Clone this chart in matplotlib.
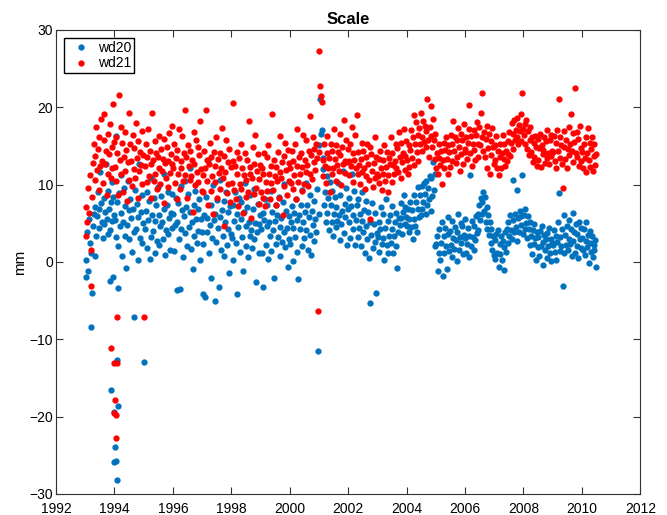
"""Scatter of the wd20 / wd21 scale time series."""
import matplotlib

matplotlib.use("Agg")
import matplotlib.pyplot as plt
import numpy as np

plt.rcParams["font.family"] = ["Liberation Sans", "DejaVu Sans"]

# ~10-day samples, one row per year (1993 .. mid 2010)
wd20 = [
    -1.9, 0.3, 3.8, -1.2, 5.6, 2.4, 1.1, -8.4, -4.0, 4.7, 6.2, 0.8, 7.1, 3.3, 5.9, 9.1, 6.8, 4.4,
    11.6, 7.6, 5.2, 3.1, 8.3, 4.9, 6.4, 12.7, 5.5, 9.2, 3.6, 6.9, 4.1, 7.8, 10.3, 5.3, 8.4, 6.1,
    5.4, 3.2, 16.3, 7.7, 2.1, 8.9, 4.6, 11.2, 6.3, 0.7, 5.1, 9.6, 3.4, 7.2, -0.8, 4.8, 10.4, 6.7,
    2.9, 8.1, 5.7, 1.3, 6.9, 3.9, -7.1, 9.3, 4.2, 7.5, 0.2, 5.8, 12.6, 3.1, 6.4, 8.7, 2.4, 5.0,
    -13.0, 4.3, 6.6, 9.1, 1.8, 5.4, 7.9, 0.4, 3.2, 10.8, 6.1, 4.0, 8.2, 1.1, 5.3, 7.4, 2.7, 9.7,
    6.0, 2.2, 4.6, 8.5, 5.2, 3.0, 11.4, 6.8, 0.9, 4.1, 7.3, 3.6, 9.0, 5.7, 1.5, 6.3, 8.8, 4.4,
    6.2, 1.4, 4.8, 8.3, -3.6, 5.1, 7.6, 2.9, -3.5, 9.8, 4.3, 6.7, 0.6, 5.9, 10.5, 3.7, 7.1, 2.0,
    8.8, 4.5, 12.1, 6.4, 1.7, 5.2, -0.9, 7.4, 3.3, 9.2, 5.6, 2.4, 6.9, 4.0, 8.1, 0.3, 5.5, 3.8,
    -4.1, 2.3, 6.1, -4.6, 8.4, 3.9, 5.7, 13.2, 1.2, 4.8, -2.1, 7.3, 3.1, 9.9, 5.4, -5.0, 6.2, 2.6,
    8.0, 4.4, -3.2, 5.8, 10.6, 1.5, 6.7, 3.4, 7.9, 0.8, 5.1, 9.1, 2.2, 6.5, 4.3, -1.4, 7.2, 3.6,
    3.1, 7.4, 0.2, 5.3, 9.1, 2.4, 6.2, -4.1, 4.5, 8.3, 1.3, 5.6, 7.7, 3.2, -1.2, 6.4, 10.2, 2.1,
    4.7, 7.1, 0.6, 5.2, 3.4, 8.6, 4.1, 1.8, 6.8, 2.9, 9.4, 5.0, -2.6, 3.8, 7.5, 1.1, 4.9, 6.1,
    4.2, 1.1, 6.3, -3.2, 5.4, 8.1, 2.2, 4.6, 7.3, 0.4, 5.1, 3.3, 9.2, 1.4, 6.5, 4.1, -2.1, 5.3,
    7.4, 2.3, 6.1, 3.2, 8.4, 4.5, 0.8, 5.7, 2.6, 7.8, 3.9, 10.1, 1.9, 6.6, 4.4, -0.7, 5.9, 3.0,
    2.3, 5.1, 7.2, 0.1, 4.4, 6.3, 3.2, 8.1, 1.3, 5.4, -2.2, 6.1, 4.3, 7.4, 2.1, 9.3, 5.2, 3.1,
    6.4, 10.2, 4.1, 7.3, 1.6, 5.8, 3.5, 8.7, 0.9, 6.6, 4.8, 2.7, 7.9, 5.5, 3.9, 9.4, -11.5, 6.2,
    15.1, 21.0, 16.6, 17.0, 13.4, 12.0, 7.3, 9.1, 5.2, 11.1, 6.3, 8.2, 4.1, 10.3, 7.4, 5.1, 9.2, 3.3,
    6.2, 8.4, 4.5, 7.1, 5.3, 10.2, 6.0, 2.8, 8.7, 4.9, 6.6, 11.8, 3.7, 7.5, 5.8, 9.6, 2.2, 6.9,
    5.2, 8.3, 3.1, 7.2, 11.4, 4.3, 6.1, 9.2, 2.2, 5.4, 7.3, 3.2, 8.1, 4.4, 6.2, 2.1, 5.3, 9.1,
    3.8, 6.7, 1.2, 7.9, 4.6, 2.9, 6.4, 0.5, 5.1, -5.3, 3.5, 7.6, 1.8, 4.9, 2.6, 6.3, -4.0, 3.7,
    3.2, 5.1, 1.3, 4.2, 7.1, 2.3, 6.2, 3.1, 0.2, 4.4, 8.1, 2.2, 5.3, 1.1, 3.4, 6.1, 2.4, 4.3,
    7.2, 1.2, 3.3, 5.2, 2.1, 6.3, -0.8, 3.9, 5.7, 4.8, 7.6, 5.7, 3.6, 6.5, 8.6, 4.9, 7.1, 5.8,
    4.7, 6.9, 3.8, 5.6, 7.8, 4.5, 6.7, 2.9, 5.6, 8.6, 4.7, 7.8, 3.9, 6.8, 9.7, 5.8, 8.7, 6.1,
    6.9, 9.8, 7.7, 10.2, 8.8, 6.2, 10.4, 7.3, 9.5, 8.1, 11.1, 6.6, 10.9, 8.5, 12.9, 9.3, 11.4, 2.1,
    2.3, 3.4, -1.2, 1.1, 4.2, 0.3, 2.5, 5.1, -1.8, 3.3, 1.2, 4.4, 2.1, -0.9, 3.6, 5.8, 1.4, 4.0,
    2.2, 5.3, 0.6, 3.1, 1.7, 4.5, 2.8, 0.1, 3.9, 6.2, 1.5, 3.2, 5.0, 2.4, 4.7, 1.0, 3.5, 5.6,
    3.1, 1.2, 2.3, 4.4, 0.6, 3.4, 11.2, 2.1, 5.3, 3.2, 1.6, 4.6, 2.8, 5.9, 3.7, 6.2, 4.1, 7.3,
    5.4, 8.3, 6.2, 7.8, 9.0, 6.6, 8.4, 5.2, 7.1, 4.3, 6.0, 3.5, 5.1, 2.4, 4.2, 1.6, 3.4, 0.9,
    2.8, 0.4, 3.6, 1.2, 4.1, -0.6, 2.3, 1.0, 3.4, 0.2, 2.7, -1.1, 1.9, 3.8, 1.3, 4.2, 2.5, 5.1,
    3.3, 6.0, 4.1, 2.9, 5.4, 10.6, 3.8, 6.2, 4.5, 2.7, 9.3, 5.7, 3.9, 6.6, 4.8, 5.9, 11.2, 3.6,
    6.1, 4.2, 6.8, 5.0, 3.1, 5.9, 4.3, 2.2, 5.2, 3.4, 1.0, 4.1, 2.3, 4.9, 3.1, 0.2, 3.8, 1.9,
    3.2, 0.8, 4.0, 2.1, 4.7, 2.6, -0.4, 3.5, 1.6, 2.9, 0.5, 3.7, 2.0, 4.4, 1.2, 3.0, 0.1, 2.4,
    2.2, 4.1, 1.3, 3.4, 0.2, 2.6, 5.1, 8.9, 1.4, 3.2, 2.1, 4.3, -3.1, 1.1, 6.1, 3.5, 2.2, 4.6,
    1.5, 3.0, 5.4, 2.3, 4.2, 0.8, 6.3, 2.7, 3.8, 1.2, 4.9, 2.1, 3.6, 0.5, 5.2, 2.9, 4.4, 1.8,
    3.1, 1.6, 4.2, 0.9, 2.7, 5.1, 1.9, 3.5, -0.2, 2.4, 4.0, 1.3, 3.3, 0.6, 2.2, 1.5, 2.8, -0.6,
]

wd21 = [
    3.4, 7.1, 5.2, 9.6, 6.3, 11.2, 1.5, -3.1, 8.4, 12.8, 15.2, 10.6, 13.7, 17.4, 11.9, 14.6, 9.3, 16.1,
    12.4, 18.5, 13.1, 10.2, 15.8, 19.1, 12.6, 14.3, 8.7, 16.6, 11.4, 13.9, 17.8, 10.8, 14.9, 12.2, 20.4, 15.5,
    12.3, 16.2, 10.4, 14.1, 8.6, 21.6, 13.2, 17.5, 11.3, 15.4, 9.1, 13.6, 16.8, 11.7, 14.5, 7.9, 12.9, 19.2,
    10.6, 15.3, 13.1, 9.8, 16.4, 12.0, 14.7, 10.9, 17.9, 13.4, 8.3, 15.6, 11.8, 14.2, 12.5, 16.9, 10.1, 13.8,
    -7.1, 12.4, 15.2, 10.3, 13.6, 17.2, 11.1, 14.4, 8.2, 12.7, 19.3, 13.2, 10.5, 15.6, 11.3, 14.1, 9.4, 13.5,
    16.3, 12.2, 10.1, 14.6, 11.7, 13.3, 7.6, 15.9, 12.8, 10.9, 14.8, 9.7, 13.1, 16.7, 11.5, 14.0, 12.6, 17.6,
    12.1, 15.3, 10.2, 13.4, 8.1, 14.5, 11.3, 17.2, 9.4, 13.1, 12.2, 16.3, 10.5, 14.1, 19.6, 11.2, 13.6, 8.3,
    15.1, 12.4, 10.6, 14.3, 11.1, 13.2, 6.4, 16.8, 12.7, 9.9, 15.7, 11.6, 14.9, 10.3, 13.8, 18.2, 12.0, 9.2,
    11.2, 9.1, 14.3, 12.1, 19.6, 10.4, 13.2, 7.3, 12.6, 15.4, 9.2, 13.5, 11.1, 6.2, 14.2, 10.3, 12.4, 16.1,
    8.2, 13.3, 11.5, 9.4, 14.1, 12.2, 17.3, 10.8, 4.6, 13.7, 11.6, 15.8, 8.9, 12.9, 10.1, 14.6, 7.8, 12.3,
    10.2, 13.1, 20.5, 9.3, 12.4, 8.1, 14.2, 11.3, 7.2, 13.4, 10.1, 15.2, 9.4, 12.1, 6.3, 11.2, 14.1, 8.4,
    10.6, 13.2, 9.1, 18.2, 11.4, 12.3, 5.7, 10.9, 14.8, 8.8, 12.7, 16.4, 9.6, 11.8, 13.9, 7.5, 10.7, 12.5,
    9.1, 12.2, 8.3, 11.4, 14.1, 7.2, 10.3, 13.5, 9.2, 15.1, 11.3, 8.1, 12.4, 10.2, 19.1, 9.3, 13.2, 11.1,
    7.4, 12.3, 10.5, 14.2, 8.2, 11.6, 16.3, 10.8, 12.9, 6.1, 13.7, 9.8, 15.4, 11.9, 8.7, 14.5, 10.4, 12.8,
    12.1, 10.2, 14.3, 9.4, 13.1, 11.2, 15.3, 8.1, 12.4, 17.2, 10.3, 13.5, 11.4, 14.1, 9.2, 12.3, 16.4, 10.1,
    13.2, 11.6, 15.7, 12.5, 9.8, 14.4, 18.8, 11.3, 13.8, 10.7, 16.1, 12.9, 14.6, 11.9, 15.2, 13.4, -6.3, 14.2,
    27.3, 22.7, 21.5, 20.7, 13.2, 11.1, 15.3, 12.4, 10.2, 14.1, 16.3, 12.2, 13.4, 9.1, 15.2, 11.3, 14.4, 12.1,
    17.2, 13.3, 10.4, 15.1, 12.5, 14.2, 11.7, 16.6, 13.8, 9.9, 14.9, 12.6, 18.4, 13.1, 11.5, 15.7, 12.9, 14.6,
    13.1, 11.2, 15.3, 12.4, 17.5, 14.1, 10.3, 13.2, 16.4, 12.1, 19.0, 11.3, 14.2, 12.5, 10.1, 13.3, 15.4, 11.6,
    14.3, 12.2, 9.4, 13.5, 11.1, 15.2, 12.7, 10.6, 14.8, 5.6, 13.9, 11.8, 9.7, 12.8, 16.1, 10.9, 13.6, 11.4,
    11.1, 13.3, 10.2, 14.4, 12.1, 9.3, 13.2, 11.4, 15.1, 10.5, 12.3, 14.2, 11.2, 9.1, 13.4, 12.6, 16.2, 10.3,
    14.1, 12.5, 11.3, 13.1, 15.3, 12.2, 14.7, 11.6, 16.8, 13.5, 10.8, 15.4, 12.9, 14.1, 17.2, 13.7, 11.9, 15.6,
    13.2, 11.4, 15.1, 12.3, 14.5, 17.1, 13.4, 16.2, 19.0, 12.5, 15.3, 18.1, 14.2, 16.4, 13.1, 17.3, 15.2, 19.3,
    16.1, 14.4, 18.2, 15.5, 17.6, 14.8, 16.9, 21.0, 15.7, 13.6, 17.4, 16.3, 20.1, 14.9, 18.5, 15.8, 13.3, 16.6,
    12.2, 14.1, 11.3, 13.4, 15.2, 12.5, 14.3, 10.1, 13.2, 15.4, 12.1, 14.5, 16.2, 13.3, 11.4, 15.1, 14.2, 12.3,
    16.4, 13.1, 15.3, 18.2, 14.4, 16.1, 12.8, 15.7, 13.6, 17.3, 14.9, 11.8, 16.5, 13.9, 15.8, 12.7, 17.8, 14.6,
    14.2, 16.1, 13.3, 15.4, 17.2, 20.3, 14.1, 16.3, 12.4, 15.2, 17.1, 14.5, 13.2, 16.4, 18.1, 15.3, 13.6, 17.4,
    15.1, 19.2, 16.2, 21.9, 14.3, 16.8, 13.5, 15.9, 17.6, 12.1, 14.7, 16.5, 11.4, 15.6, 13.8, 17.3, 14.9, 12.6,
    15.1, 13.2, 16.3, 12.1, 14.4, 11.2, 15.3, 13.5, 12.2, 14.1, 16.4, 13.3, 15.2, 12.4, 14.3, 13.1, 15.6, 14.0,
    16.8, 13.7, 15.4, 17.9, 14.6, 16.5, 18.4, 15.8, 17.1, 16.2, 18.6, 15.3, 17.7, 16.9, 19.1, 15.6, 21.8, 17.2,
    16.4, 17.8, 15.2, 18.3, 14.6, 16.9, 13.8, 15.7, 17.4, 14.2, 16.1, 12.9, 15.4, 13.6, 16.3, 14.8, 12.4, 15.9,
    13.2, 14.7, 16.6, 12.3, 15.1, 13.9, 14.5, 16.2, 12.8, 15.6, 13.4, 17.1, 14.1, 12.6, 15.8, 13.7, 16.4, 14.3,
    14.2, 16.3, 13.1, 15.4, 12.2, 17.1, 14.3, 21.0, 16.2, 13.4, 15.1, 12.6, 9.6, 14.8, 16.9, 13.3, 15.7, 12.1,
    14.6, 17.4, 13.8, 15.2, 19.1, 14.4, 16.7, 12.9, 15.5, 22.5, 14.1, 16.8, 13.6, 15.9, 12.4, 17.6, 14.7, 13.0,
    14.2, 12.1, 15.3, 13.4, 16.2, 11.6, 14.1, 17.3, 13.2, 15.4, 12.3, 14.6, 16.1, 11.8, 13.7, 15.2, 12.5, 14.0,
]

# early-1994 outliers
out20_t = [1993.87, 1994.08, 1994.0, 1994.11, 1994.02, 1994.0, 1994.05, 1994.07, 1993.85, 1994.12, 1993.95]
out20_v = [-16.6, -12.7, -19.4, -18.6, -24.0, -25.9, -25.7, -28.2, -2.5, -3.4, -1.9]
out21_t = [1993.89, 1994.0, 1994.1, 1994.02, 1994.0, 1994.06, 1994.05, 1994.08]
out21_v = [-11.1, -13.1, -13.1, -17.9, -19.5, -19.8, -22.8, -7.1]

BLUE = "#0072BD"
RED = "#FF0000"

t20 = 1993 + (np.arange(len(wd20)) + 0.5) / 36
t21 = 1993 + (np.arange(len(wd21)) + 0.5) / 36

fig = plt.figure(figsize=(6.67, 5.15), dpi=100)
ax = fig.add_axes([0.084, 0.041, 0.876, 0.901])

ax.plot(np.concatenate([t20, out20_t]), np.concatenate([wd20, out20_v]),
        ".", color=BLUE, markersize=7, label="wd20")
ax.plot(np.concatenate([t21, out21_t]), np.concatenate([wd21, out21_v]),
        ".", color=RED, markersize=7, label="wd21")

ax.set_xlim(1992, 2012)
ax.set_ylim(-30, 30)
ax.set_xticks(np.arange(1992, 2013, 2))
ax.set_yticks(np.arange(-30, 31, 10))
ax.tick_params(direction="in", top=True, right=True, labelsize=10, length=5,
               color="#333333")
ax.tick_params(axis="x", pad=6)
ax.tick_params(axis="y", pad=2)
for sp in ax.spines.values():
    sp.set_color("#333333")
    sp.set_linewidth(0.8)

ax.set_ylabel("mm", fontsize=11, labelpad=2)
ax.set_title("Scale", fontsize=12, fontweight="bold", pad=4)
ax.legend(loc="upper left", fancybox=False, edgecolor="k", fontsize=10,
          handletextpad=0.2, borderpad=0.2, labelspacing=0.1, borderaxespad=0.6,
          framealpha=1)

fig.savefig("out.png", dpi=100)
